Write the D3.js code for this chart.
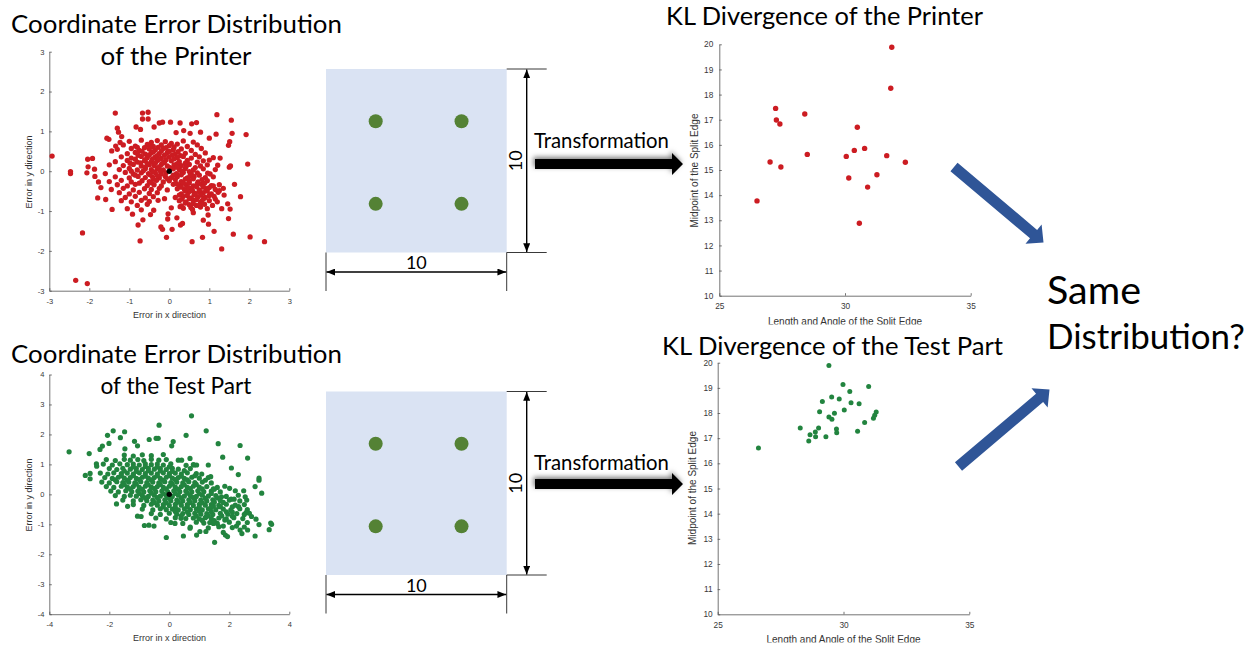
<!DOCTYPE html>
<html>
<head>
<meta charset="utf-8">
<script src="https://cdn.jsdelivr.net/npm/d3@7"></script>
<style>
  html, body { margin: 0; padding: 0; background: #fff; }
  svg { display: block; }
</style>
</head>
<body>
<svg id="fig" width="1255" height="647"></svg>
<script>
// ---------- Data ----------

// Coordinate errors of the printer (x error, y error)
const printerErrors = [
  [-2.93,0.38],[-2.47,-0.01],[-2.47,-0.06],[-2.17,-1.55],[-2.34,-2.74],[-2.05,-2.82],
  [-1.35,1.46],[-0.67,1.46],[-0.53,1.48],[-0.67,1.31],[-0.53,1.31],[1.19,1.42],[1.55,1.28],
  [1.92,0.92],[1.0,0.83],[1.57,0.95],[1.51,0.74],[1.48,0.65],[1.96,0.18],[1.78,-0.64],
  [1.63,-0.33],[1.46,-0.82],[1.52,-0.95],[1.48,-1.19],[1.60,-1.58],[2.02,-1.65],[2.38,-1.77],
  [1.31,-1.95],[1.12,-1.51],[0.83,-1.66],[0.57,-1.77],[-0.07,-1.66],[-0.73,-1.75],[-0.17,-1.46],
  [-0.21,-1.40],[0.07,-1.46],[0.19,-1.17],[0.28,-1.35],[0.33,-1.31],[-0.66,-1.22],[-0.78,-1.35],
  [-0.92,-1.08],[-0.47,-1.09],[-0.39,-0.98],[-1.43,-0.96],[-1.79,-0.67],[-1.59,-0.71],
  [-2.04,0.30],[-1.92,0.32],[-2.03,0.11],[-1.87,0.05],[-2.06,-0.04],[-1.77,-0.27],[-1.86,-0.13],
  [-1.71,-0.41],[-1.56,0.83],[-1.51,0.80],[-1.30,1.08],[-1.27,0.98],[-1.19,0.87],[-1.44,0.51],
  [-1.34,0.63],[-1.23,0.72],[-0.83,1.11],[-0.72,1.05],[-0.38,1.11],[-0.25,1.21],[-0.17,1.23],
  [0.03,1.23],[0.27,1.21],[0.56,1.19],[0.68,1.22],[0.36,1.02],[0.17,0.97],[0.52,0.95],[0.78,0.98],
  [1.17,0.93],[1.0,0.28],[1.27,0.33],[1.21,0.15],[1.50,0.10],[1.53,0.13],[0.96,-0.05],[1.02,-0.07],
  [1.10,-0.37],[1.25,-0.49],[1.37,-0.60],[1.15,-0.70],[1.31,-0.94],[0.97,-1.10],[0.85,-1.23],
  [0.98,-1.33],[0.60,-1.04],[0.78,-0.90],[0.54,-0.91],[0.27,-0.89],[0.05,-0.92],[-0.03,-1.07],
  [-0.12,-0.69],[-0.28,-0.73],[-0.04,-1.20],
  [-1.0,0.75],[-0.7,0.78],[-0.45,0.72],[-0.3,0.77],[-0.1,0.74],[0.05,0.7],[0.35,0.76],[0.6,0.73],
  [-1.15,0.66],[-0.85,0.63],[-0.55,0.67],[-0.4,0.62],[-0.2,0.66],[0,0.64],[0.2,0.68],[0.45,0.62],[0.7,0.66],
  [-1.3,0.55],[-0.95,0.57],[-0.75,0.52],[-0.5,0.56],[-0.35,0.53],[-0.15,0.57],[0.1,0.54],[0.3,0.56],[0.55,0.52],[0.8,0.57],
  [-1.05,0.44],[-0.85,0.47],[-0.6,0.43],[-0.45,0.46],[-0.25,0.44],[-0.05,0.47],[0.15,0.43],[0.4,0.45],[0.65,0.42],[0.9,0.46],
  [-1.2,0.36],[-0.95,0.33],[-0.7,0.37],[-0.55,0.34],[-0.35,0.36],[-0.2,0.32],[0,0.36],[0.2,0.34],[0.35,0.37],[0.55,0.33],[0.75,0.36],[1.1,0.34],
  [-1.35,0.24],[-1.05,0.27],[-0.8,0.23],[-0.62,0.26],[-0.45,0.24],[-0.3,0.27],[-0.12,0.23],[0.05,0.26],[0.25,0.24],[0.45,0.27],[0.7,0.23],[0.85,0.26],
  [-1.5,0.16],[-1.15,0.14],[-0.9,0.17],[-0.7,0.13],[-0.5,0.16],[-0.38,0.14],[-0.2,0.17],[-0.05,0.13],[0.12,0.16],[0.3,0.14],[0.5,0.17],[0.78,0.13],[0.95,0.16],
  [-1.25,0.04],[-1,0.07],[-0.8,0.03],[-0.6,0.06],[-0.45,0.04],[-0.3,0.07],[-0.15,0.03],[0.1,0.06],[0.25,0.04],[0.4,0.07],[0.6,0.03],[0.85,0.06],[1.15,0.04],
  [-1.6,-0.06],[-1.1,-0.03],[-0.9,-0.07],[-0.7,-0.04],[-0.52,-0.06],[-0.35,-0.03],[-0.2,-0.07],[-0.08,-0.04],[0.18,-0.06],[0.35,-0.03],[0.55,-0.07],[0.7,-0.04],
  [-1.35,-0.14],[-1,-0.17],[-0.78,-0.13],[-0.6,-0.16],[-0.42,-0.14],[-0.25,-0.17],[-0.1,-0.13],[0.05,-0.16],[0.2,-0.14],[0.45,-0.17],[0.62,-0.13],[0.9,-0.16],[1.1,-0.14],
  [-1.5,-0.26],[-1.2,-0.23],[-0.95,-0.27],[-0.68,-0.24],[-0.5,-0.26],[-0.32,-0.23],[-0.15,-0.27],[0,-0.24],[0.3,-0.26],[0.5,-0.23],[0.72,-0.27],[0.95,-0.24],
  [-1.3,-0.34],[-1.05,-0.37],[-0.85,-0.33],[-0.55,-0.36],[-0.38,-0.34],[-0.2,-0.37],[0.1,-0.33],[0.25,-0.36],[0.42,-0.34],[0.6,-0.37],[0.8,-0.33],[1.05,-0.36],[1.25,-0.34],
  [-1.45,-0.46],[-1.15,-0.43],[-0.9,-0.47],[-0.62,-0.44],[-0.45,-0.46],[-0.25,-0.43],[-0.05,-0.47],[0.2,-0.44],[0.38,-0.46],[0.55,-0.43],[0.75,-0.47],[0.92,-0.44],[1.15,-0.46],[1.35,-0.43],
  [-1.25,-0.54],[-1,-0.57],[-0.75,-0.53],[-0.5,-0.56],[-0.3,-0.54],[0.3,-0.57],[0.48,-0.53],[0.65,-0.56],[0.85,-0.54],[1.05,-0.57],[1.22,-0.53],
  [-1.1,-0.66],[-0.85,-0.63],[-0.6,-0.67],[-0.4,-0.64],[0.15,-0.66],[0.35,-0.63],[0.55,-0.67],[0.72,-0.64],[0.9,-0.66],[1.12,-0.63],
  [-1.2,-0.74],[-0.95,-0.77],[-0.7,-0.73],[-0.5,-0.76],[0.25,-0.74],[0.42,-0.77],[0.6,-0.73],[0.8,-0.76],[1,-0.74],[1.2,-0.77],
  [-0.8,-0.86],[-0.55,-0.83],[0.3,-0.87],[0.5,-0.84],[0.68,-0.86],[0.88,-0.83],[1.08,-0.86],
  [-1.05,-0.94],[-0.7,-0.97],[0.35,-0.93],[0.58,-0.96],[0.95,-0.94],
  [-0.8,0.6],[-0.62,0.59],[-0.48,0.61],[-0.28,0.6],[-0.08,0.59],[0.12,0.61],
  [-0.68,0.5],[-0.4,0.49],[-0.2,0.51],[0.0,0.5],[0.22,0.49],
  [-0.78,0.4],[-0.5,0.41],[-0.3,0.39],[-0.12,0.4],[0.08,0.41],[0.28,0.39],
  [-0.85,0.3],[-0.6,0.29],[-0.42,0.31],[-0.25,0.3],[-0.08,0.29],[0.12,0.31],
  [-0.98,0.2],[-0.72,0.21],[-0.55,0.19],[-0.35,0.2],[-0.15,0.21],[0.2,0.19],[0.4,0.2],
  [-0.6,0.1],[-0.25,0.11],[0.02,0.09],[0.2,0.1],[0.42,0.11],[0.65,0.09],
  [-0.95,0.0],[-0.65,0.01],[-0.4,-0.01],[-0.22,0.0],[0.3,0.01],[0.5,-0.01],
  [-0.85,-0.1],[-0.48,-0.09],[-0.3,-0.11],[0.1,-0.1],[0.3,-0.09],[0.52,-0.11],[0.75,-0.1],
  [-0.4,-0.2],[-0.05,-0.19],[0.15,-0.21],[0.4,-0.2],[0.6,-0.19],[0.82,-0.21],
  [-0.75,-0.3],[-0.45,-0.29],[0.18,-0.31],[0.35,-0.3],[0.5,-0.29],[0.7,-0.31],[0.88,-0.3],
  [0.3,-0.4],[0.48,-0.41],[0.68,-0.39],[0.85,-0.4],[1.0,-0.41],
  [0.4,-0.5],[0.58,-0.49],[0.75,-0.51],[0.95,-0.5],
  [0.25,-0.6],[0.45,-0.61],[0.62,-0.59],[0.8,-0.6],[1.0,-0.61],
  [0.32,-0.7],[0.5,-0.69],[0.68,-0.71],[0.85,-0.7],
  [0.4,-0.8],[0.6,-0.81],[0.78,-0.79]
];

// Coordinate errors of the test part (x error, y error)
const testPartErrors = [
  [-3.34,1.42],[-2.80,0.63],[-2.64,0.52],[-2.64,0.70],[-2.67,1.36],[-2.43,1.02],[-2.42,0.94],
  [-2.31,1.50],[-2.23,1.61],[-2.06,1.97],[-1.87,2.12],[-1.49,2.09],[-2.01,1.70],[-1.63,1.89],
  [-1.76,-0.32],[-1.39,-0.40],[-1.06,-0.73],[-0.94,-0.74],[-0.83,-1.04],[-0.68,-1.03],[-0.51,-1.06],
  [-0.10,-1.44],[-0.34,2.31],[0.74,2.62],[0.56,1.97],[1.23,2.12],[1.63,1.69],[2.36,1.63],[1.78,1.24],
  [2.61,1.21],[2.07,0.88],[2.30,0.66],[2.99,0.54],[2.99,0.47],[2.86,0.26],[3.08,0.04],[3.38,-0.96],
  [3.41,-1.00],[3.33,-1.18],[2.99,-1.01],[2.86,-1.39],[1.51,-1.60],[0.47,-1.39],[0.91,-1.36],
  [1.87,-1.36],[1.94,-1.41],[1.80,-1.27],[2.36,-1.19],[2.42,-1.31],[2.61,-1.19],[2.67,-0.63],
  [2.58,-0.19],[2.53,-0.08],[2.48,0.12],[2.01,0.20],[2.06,-0.16],[2.16,-0.16],[2.31,-0.41],
  [2.10,-0.59],[2.24,-1.06],[2.74,-0.74],[2.89,-0.83],[2.56,-0.61],[1.47,-0.97],[1.80,-1.06],
  [1.22,-1.24],[1.02,-1.24],[0.69,-1.13],[0.39,-0.80],[0.19,-0.97],[1.24,-0.74],[1.02,-0.52],
  [1.47,-0.39],[1.69,-0.41],[1.74,-0.08],[1.47,0.18],[1.38,0.59],[1.08,0.68],[0.83,0.98],
  [0.69,1.20],[0.91,0.98],[1.30,0.98],[0.56,0.97],[0.30,1.14],[0.41,1.14],[0.13,1.76],[0.08,1.62],
  [-0.37,1.87],[-0.44,1.87],[-0.67,1.83],[-1.16,1.77],[-1.06,1.62],[-1.48,1.52],
  [-1.5,1.31],[-1.2,1.28],[-0.9,1.32],[-0.6,1.29],[-0.2,1.33],
  [-2.1,1.16],[-1.8,1.13],[-1.5,1.17],[-1.3,1.14],[-1.05,1.16],[-0.85,1.13],[-0.6,1.17],[-0.35,1.14],[-0.1,1.16],
  [-2.2,1.01],[-1.9,0.98],[-1.65,1.02],[-1.4,0.99],[-1.2,1.01],[-1.0,0.98],[-0.8,1.02],[-0.6,0.99],[-0.4,1.01],[-0.2,0.98],[0.05,1.02],[0.8,0.99],
  [-2.0,0.86],[-1.75,0.83],[-1.55,0.87],[-1.3,0.84],[-1.1,0.86],[-0.9,0.83],[-0.7,0.87],[-0.5,0.84],[-0.3,0.86],[-0.1,0.83],[0.1,0.87],[0.3,0.84],[0.7,0.86],
  [-2.3,0.71],[-2.05,0.68],[-1.85,0.72],[-1.6,0.69],[-1.4,0.71],[-1.2,0.68],[-1.0,0.72],[-0.8,0.69],[-0.6,0.71],[-0.4,0.68],[-0.2,0.72],[0.0,0.69],[0.2,0.71],[0.4,0.68],[0.6,0.72],[0.9,0.69],
  [-2.15,0.56],[-1.9,0.53],[-1.7,0.57],[-1.5,0.54],[-1.3,0.56],[-1.1,0.53],[-0.9,0.57],[-0.7,0.54],[-0.5,0.56],[-0.3,0.53],[-0.1,0.57],[0.1,0.54],[0.3,0.56],[0.5,0.53],[0.75,0.57],[1.0,0.54],[1.3,0.56],
  [-2.25,0.41],[-2.0,0.38],[-1.75,0.42],[-1.55,0.39],[-1.35,0.41],[-1.15,0.38],[-0.95,0.42],[-0.75,0.39],[-0.55,0.41],[-0.35,0.38],[-0.15,0.42],[0.05,0.39],[0.25,0.41],[0.45,0.38],[0.65,0.42],[0.85,0.39],[1.1,0.41],[1.4,0.38],
  [-2.1,0.26],[-1.85,0.23],[-1.6,0.27],[-1.4,0.24],[-1.2,0.26],[-1.0,0.23],[-0.8,0.27],[-0.6,0.24],[-0.4,0.26],[-0.2,0.23],[0.0,0.27],[0.2,0.24],[0.4,0.26],[0.6,0.23],[0.8,0.27],[1.0,0.24],[1.25,0.26],[1.6,0.23],[1.85,0.27],
  [-1.95,0.11],[-1.7,0.08],[-1.45,0.12],[-1.25,0.09],[-1.05,0.11],[-0.85,0.08],[-0.65,0.12],[-0.45,0.09],[-0.25,0.11],[-0.05,0.08],[0.15,0.12],[0.35,0.09],[0.55,0.11],[0.75,0.08],[0.95,0.12],[1.15,0.09],[1.4,0.11],[1.7,0.08],[2.2,0.12],
  [-1.8,-0.04],[-1.5,-0.07],[-1.3,-0.03],[-1.1,-0.06],[-0.9,-0.04],[-0.7,-0.07],[-0.5,-0.03],[-0.3,-0.06],[-0.1,-0.04],[0.1,-0.07],[0.3,-0.03],[0.5,-0.06],[0.7,-0.04],[0.9,-0.07],[1.1,-0.03],[1.3,-0.06],[1.55,-0.04],[1.9,-0.07],[2.3,-0.03],
  [-1.55,-0.19],[-1.2,-0.22],[-0.95,-0.18],[-0.75,-0.21],[-0.55,-0.19],[-0.35,-0.22],[-0.15,-0.18],[0.05,-0.21],[0.25,-0.19],[0.45,-0.22],[0.65,-0.18],[0.85,-0.21],[1.05,-0.19],[1.25,-0.22],[1.45,-0.18],[1.7,-0.21],[2.0,-0.19],[2.35,-0.22],
  [-1.2,-0.34],[-0.85,-0.37],[-0.6,-0.33],[-0.4,-0.36],[-0.2,-0.34],[0.0,-0.37],[0.2,-0.33],[0.4,-0.36],[0.6,-0.34],[0.8,-0.37],[1.0,-0.33],[1.2,-0.36],[1.4,-0.34],[1.65,-0.37],[1.9,-0.33],[2.2,-0.36],[2.5,-0.34],
  [-0.9,-0.49],[-0.55,-0.52],[-0.3,-0.48],[-0.1,-0.51],[0.1,-0.49],[0.3,-0.52],[0.5,-0.48],[0.7,-0.51],[0.9,-0.49],[1.1,-0.52],[1.3,-0.48],[1.55,-0.51],[1.8,-0.49],[2.05,-0.52],[2.35,-0.48],[2.6,-0.51],
  [-0.6,-0.64],[-0.3,-0.67],[0.0,-0.63],[0.25,-0.66],[0.45,-0.64],[0.65,-0.67],[0.85,-0.63],[1.05,-0.66],[1.25,-0.64],[1.45,-0.67],[1.7,-0.63],[1.95,-0.66],[2.25,-0.64],[2.5,-0.67],
  [-0.45,-0.79],[-0.1,-0.82],[0.2,-0.78],[0.55,-0.81],[0.8,-0.79],[1.0,-0.82],[1.2,-0.78],[1.4,-0.81],[1.65,-0.79],[1.9,-0.82],[2.15,-0.78],[2.45,-0.81],
  [0.05,-0.94],[0.45,-0.97],[0.9,-0.93],[1.15,-0.96],[1.35,-0.94],[1.6,-0.97],[2.0,-0.93],[2.3,-0.96],[2.6,-0.94],
  [0.7,-1.09],[1.3,-1.12],[1.65,-1.08],[2.1,-1.11],[2.5,-1.09],
  [-1.2,0.92],[-0.8,0.93],[-0.4,0.91],[0.0,0.92],
  [-1.5,0.78],[-1.1,0.77],[-0.7,0.79],[-0.3,0.78],[0.1,0.77],[0.5,0.79],
  [-1.6,0.62],[-1.2,0.63],[-0.8,0.61],[-0.4,0.62],[0.0,0.63],[0.4,0.61],[0.85,0.62],
  [-1.8,0.48],[-1.4,0.47],[-1.0,0.49],[-0.6,0.48],[-0.2,0.47],[0.2,0.49],[0.6,0.48],[1.2,0.47],
  [-1.5,0.33],[-1.1,0.34],[-0.7,0.32],[-0.3,0.33],[0.1,0.34],[0.5,0.32],[0.9,0.33],
  [-1.3,0.18],[-0.9,0.17],[-0.5,0.19],[-0.1,0.18],[0.3,0.17],[0.7,0.19],[1.1,0.18],[1.5,0.17],
  [-1.0,0.03],[-0.6,0.04],[-0.2,0.02],[0.2,0.03],[0.6,0.04],[1.0,0.02],[1.4,0.03],
  [-0.8,-0.12],[-0.4,-0.11],[0.0,-0.13],[0.4,-0.12],[0.8,-0.11],[1.2,-0.13],[1.6,-0.12],
  [-0.5,-0.27],[-0.1,-0.28],[0.3,-0.26],[0.7,-0.27],[1.1,-0.28],[1.5,-0.26],[1.8,-0.27],
  [-0.2,-0.42],[0.2,-0.43],[0.6,-0.41],[1.0,-0.42],[1.4,-0.43],[1.7,-0.41],[2.1,-0.42],
  [0.2,-0.57],[0.6,-0.58],[1.0,-0.56],[1.4,-0.57],[1.9,-0.58],
  [0.4,-0.72],[0.9,-0.73],[1.3,-0.71],[1.75,-0.72],[2.1,-0.73],
  [1.1,-0.87],[1.5,-0.88],[1.85,-0.86]
];

// KL divergence points of the printer (length & angle, midpoint of the split edge)
const printerKL = [
  [31.86,19.88],[31.82,18.25],[27.24,17.45],[28.40,17.23],[27.27,16.99],[27.41,16.83],
  [30.49,16.70],[30.78,15.86],[30.37,15.78],[28.50,15.62],[31.66,15.57],[30.05,15.54],
  [27.02,15.32],[32.40,15.31],[27.45,15.12],[31.27,14.81],[30.15,14.68],[30.90,14.32],
  [26.50,13.77],[30.57,12.88]
];

// KL divergence points of the test part
const testPartKL = [
  [29.42,19.89],[29.98,19.13],[31.00,19.05],[30.25,18.86],[29.53,18.64],[29.16,18.46],
  [29.83,18.56],[30.30,18.41],[30.62,18.37],[29.05,18.05],[30.03,18.12],[29.64,17.99],
  [31.30,18.04],[31.24,17.91],[31.19,17.79],[29.42,17.84],[29.54,17.75],[30.84,17.62],
  [28.28,17.40],[29.01,17.40],[29.72,17.36],[29.73,17.22],[30.56,17.28],[28.88,17.25],
  [28.67,17.14],[28.89,17.06],[29.30,17.06],[28.62,16.89],[26.62,16.61]
];

// Nominal centre of the error cloud
const nominalPoint = [[0, 0]];

// Hole centres on the 10 x 10 part (part units, measured from the top-left corner)
const partHoles = [[2.75, 2.85], [7.5, 2.85], [2.75, 7.35], [7.5, 7.35]];
const partSize = 10;

// Tick values
const printerXTicks = [-3, -2, -1, 0, 1, 2, 3];
const printerYTicks = [-3, -2, -1, 0, 1, 2, 3];
const testXTicks = [-4, -2, 0, 2, 4];
const testYTicks = [-4, -3, -2, -1, 0, 1, 2, 3, 4];
const klXTicks = [25, 30, 35];
const klYTicks = [10, 11, 12, 13, 14, 15, 16, 17, 18, 19, 20];

// ---------- Drawing ----------
const RED = "#cc1c22";
const GREEN = "#22843f";
const BLUE = "#2f5597";
const AXIS = "#505050";
const TICKTXT = "#383838";
const CHART_FONT = "'Liberation Sans', Arial, Helvetica, sans-serif";
const SLIDE_FONT = "Lato, 'Open Sans', sans-serif";

const svg = d3.select("#fig");
svg.append("rect").attr("width", 1255).attr("height", 647).attr("fill", "#fff");
const defs = svg.append("defs");

// soft shadow for the "Transformation" arrows
const shadow = defs.append("filter").attr("id", "arrowShadow")
  .attr("x", "-10%").attr("y", "-80%").attr("width", "125%").attr("height", "260%");
shadow.append("feDropShadow").attr("dx", -1.5).attr("dy", -2)
  .attr("stdDeviation", 2.6).attr("flood-color", "#000").attr("flood-opacity", 0.5);

// arrow head for the dimension lines
defs.append("marker").attr("id", "dimHead")
  .attr("viewBox", "0 0 10 8").attr("refX", 10).attr("refY", 4)
  .attr("markerWidth", 9).attr("markerHeight", 7).attr("markerUnits", "userSpaceOnUse")
  .attr("orient", "auto-start-reverse")
  .append("path").attr("d", "M0,0 L10,4 L0,8 Z").attr("fill", "#000");

function scatterPanel(cfg) {
  const g = svg.append("g");
  if (cfg.clipBottom) {
    const id = "clip-" + cfg.id;
    defs.append("clipPath").attr("id", id)
      .append("rect").attr("x", 0).attr("y", 0).attr("width", 1255).attr("height", cfg.clipBottom);
    g.attr("clip-path", `url(#${id})`);
  }
  const x = d3.scaleLinear().domain(cfg.xDomain).range(cfg.xRange);
  const y = d3.scaleLinear().domain(cfg.yDomain).range(cfg.yRange);

  const xAxis = d3.axisBottom(x).tickValues(cfg.xTicks).tickFormat(d => String(d))
    .tickSizeInner(-2.5).tickSizeOuter(0).tickPadding(cfg.xPad);
  const yAxis = d3.axisLeft(y).tickValues(cfg.yTicks).tickFormat(d => String(d))
    .tickSizeInner(-2.5).tickSizeOuter(0).tickPadding(cfg.yPad);

  const gx = g.append("g").attr("transform", `translate(0,${cfg.yRange[0]})`).call(xAxis);
  const gy = g.append("g").attr("transform", `translate(${cfg.xRange[0]},0)`).call(yAxis);
  [gx, gy].forEach(a => {
    a.select(".domain").attr("stroke", AXIS).attr("stroke-width", 0.8);
    a.selectAll(".tick line").attr("stroke", AXIS).attr("stroke-width", 0.8);
    a.selectAll(".tick text").attr("fill", TICKTXT)
      .style("font-family", CHART_FONT).style("font-size", cfg.tickFont + "px");
  });

  g.append("g").selectAll("circle").data(cfg.points).join("circle")
    .attr("cx", d => x(d[0])).attr("cy", d => y(d[1]))
    .attr("r", cfg.r).attr("fill", cfg.color);

  if (cfg.center) {
    g.append("g").selectAll("circle").data(cfg.center).join("circle")
      .attr("cx", d => x(d[0])).attr("cy", d => y(d[1]))
      .attr("r", 2.7).attr("fill", "#000");
  }

  g.append("text").attr("x", cfg.xLabelPos[0]).attr("y", cfg.xLabelPos[1])
    .attr("text-anchor", "middle").attr("fill", "#333")
    .style("font-family", CHART_FONT).style("font-size", cfg.labelFont + "px")
    .text(cfg.xLabel);
  g.append("text")
    .attr("transform", `translate(${cfg.yLabelPos[0]},${cfg.yLabelPos[1]}) rotate(-90)`)
    .attr("text-anchor", "middle").attr("fill", "#333")
    .style("font-family", CHART_FONT).style("font-size", cfg.labelFont + "px")
    .text(cfg.yLabel);
}

scatterPanel({
  id: "printer", points: printerErrors, center: nominalPoint, color: RED, r: 2.65,
  xDomain: [-3, 3], xRange: [49.3, 289.3], yDomain: [-3, 3], yRange: [290.7, 51.7],
  xTicks: printerXTicks, yTicks: printerYTicks, xPad: 8, yPad: 5, tickFont: 7.5, labelFont: 9,
  xLabel: "Error in x direction", xLabelPos: [169.5, 318],
  yLabel: "Error in y direction", yLabelPos: [31.5, 172]
});

scatterPanel({
  id: "testpart", points: testPartErrors, center: nominalPoint, color: GREEN, r: 2.6,
  xDomain: [-4, 4], xRange: [49.3, 289.3], yDomain: [-4, 4], yRange: [614.2, 374.5],
  xTicks: testXTicks, yTicks: testYTicks, xPad: 7.5, yPad: 5, tickFont: 7.5, labelFont: 9,
  xLabel: "Error in x direction", xLabelPos: [169.5, 641],
  yLabel: "Error in y direction", yLabelPos: [31.5, 495]
});

scatterPanel({
  id: "klprinter", points: printerKL, color: RED, r: 2.7, clipBottom: 324.5,
  xDomain: [25, 35], xRange: [719.3, 970.7], yDomain: [10, 20], yRange: [295.7, 44.3],
  xTicks: klXTicks, yTicks: klYTicks, xPad: 7.5, yPad: 6, tickFont: 8.3, labelFont: 10,
  xLabel: "Length and Angle of the Split Edge", xLabelPos: [845, 324.5],
  yLabel: "Midpoint of the Split Edge", yLabelPos: [698, 170.5]
});

scatterPanel({
  id: "kltest", points: testPartKL, color: GREEN, r: 2.5, clipBottom: 642.5,
  xDomain: [25, 35], xRange: [717.7, 969.3], yDomain: [10, 20], yRange: [614.3, 362.7],
  xTicks: klXTicks, yTicks: klYTicks, xPad: 7.5, yPad: 5, tickFont: 8.3, labelFont: 10,
  xLabel: "Length and Angle of the Split Edge", xLabelPos: [843.5, 642.5],
  yLabel: "Midpoint of the Split Edge", yLabelPos: [696, 488]
});

// ---------- Slide text ----------
function slideText(str, x, y, size, fitWidth, anchor) {
  const t = svg.append("text").attr("x", x).attr("y", y)
    .attr("text-anchor", anchor || "start").attr("fill", "#000")
    .style("font-family", SLIDE_FONT).attr("font-size", size).text(str);
  if (fitWidth) {
    const w = t.node().getComputedTextLength();
    if (w > 0) t.attr("font-size", size * fitWidth / w);
  }
  return t;
}

slideText("Coordinate Error Distribution", 176.5, 33, 28, 331, "middle");
slideText("of the Printer", 176, 65, 28, 151, "middle");
slideText("Coordinate Error Distribution", 176.5, 363, 28, 331, "middle");
slideText("of the Test Part", 176, 393.5, 28, 151, "middle");
slideText("KL Divergence of the Printer", 824.5, 24.5, 28, 317, "middle");
slideText("KL Divergence of the Test Part", 832.5, 355, 28, 341, "middle");
slideText("Same", 1047, 304, 37, 94);
slideText("Distribution?", 1047, 349, 37, 198);

// ---------- Part diagrams ----------
function partDiagram(dy, arrowDy) {
  const px = d3.scaleLinear().domain([0, partSize]).range([326, 506.7]);
  const py = d3.scaleLinear().domain([0, partSize]).range([69 + dy, 252.5 + dy]);
  const g = svg.append("g");

  g.append("rect").attr("x", px(0)).attr("y", py(0))
    .attr("width", px(partSize) - px(0)).attr("height", py(partSize) - py(0))
    .attr("fill", "#dae3f3");

  g.selectAll("circle").data(partHoles).join("circle")
    .attr("cx", d => px(d[0])).attr("cy", d => py(d[1])).attr("r", 7)
    .attr("fill", "#548235");

  const ext = [
    [px(partSize), py(0), px(partSize) + 40, py(0)],
    [px(partSize), py(partSize), px(partSize) + 40, py(partSize)],
    [px(0), py(partSize), px(0), py(partSize) + 38.5],
    [px(partSize), py(partSize), px(partSize), py(partSize) + 38.5]
  ];
  g.selectAll("line.ext").data(ext).join("line").attr("class", "ext")
    .attr("x1", d => d[0]).attr("y1", d => d[1]).attr("x2", d => d[2]).attr("y2", d => d[3])
    .attr("stroke", "#222").attr("stroke-width", 0.9);

  // vertical dimension
  g.append("line").attr("x1", 526.7).attr("x2", 526.7).attr("y1", py(0) + 0.5).attr("y2", py(partSize) - 0.5)
    .attr("stroke", "#000").attr("stroke-width", 1.4)
    .attr("marker-start", "url(#dimHead)").attr("marker-end", "url(#dimHead)");
  // horizontal dimension
  g.append("line").attr("y1", py(partSize) + 19.5).attr("y2", py(partSize) + 19.5)
    .attr("x1", px(0) + 0.5).attr("x2", px(partSize) - 0.5)
    .attr("stroke", "#000").attr("stroke-width", 1.4)
    .attr("marker-start", "url(#dimHead)").attr("marker-end", "url(#dimHead)");

  g.append("text").attr("x", (px(0) + px(partSize)) / 2).attr("y", py(partSize) + 16.5)
    .attr("text-anchor", "middle").attr("fill", "#000")
    .style("font-family", SLIDE_FONT).style("font-size", "18px").text("10");
  g.append("text")
    .attr("transform", `translate(522,${(py(0) + py(partSize)) / 2}) rotate(-90)`)
    .attr("text-anchor", "middle").attr("fill", "#000")
    .style("font-family", SLIDE_FONT).style("font-size", "18px").text("10");

  // "Transformation" arrow
  const ay = 164 + arrowDy;
  g.append("path")
    .attr("d", `M535,${ay - 5} L672,${ay - 5} L672,${ay - 11} L683,${ay} L672,${ay + 11} L672,${ay + 5} L535,${ay + 5} Z`)
    .attr("fill", "#000").attr("filter", "url(#arrowShadow)");
  slideText("Transformation", 534, 148 + dy - (dy ? 1 : 0), 21, 135);
}

partDiagram(0, 0);
partDiagram(322.5, 320);

// ---------- Blue block arrows toward the conclusion ----------
function blockArrow(tail, tip, shaftW, headW, headL) {
  const dx = tip[0] - tail[0], dy = tip[1] - tail[1], L = Math.hypot(dx, dy);
  const ux = dx / L, uy = dy / L, nx = -uy, ny = ux;
  const bx = tip[0] - ux * headL, by = tip[1] - uy * headL;
  const p = [
    [tail[0] + nx * shaftW / 2, tail[1] + ny * shaftW / 2],
    [bx + nx * shaftW / 2, by + ny * shaftW / 2],
    [bx + nx * headW / 2, by + ny * headW / 2],
    tip,
    [bx - nx * headW / 2, by - ny * headW / 2],
    [bx - nx * shaftW / 2, by - ny * shaftW / 2],
    [tail[0] - nx * shaftW / 2, tail[1] - ny * shaftW / 2]
  ];
  return "M" + p.map(q => q.join(",")).join("L") + "Z";
}
svg.append("path").attr("d", blockArrow([954, 167], [1043.5, 242.5], 11, 25, 13)).attr("fill", BLUE);
svg.append("path").attr("d", blockArrow([958.5, 466.5], [1049.5, 389.5], 11, 25, 13)).attr("fill", BLUE);
</script>
</body>
</html>
